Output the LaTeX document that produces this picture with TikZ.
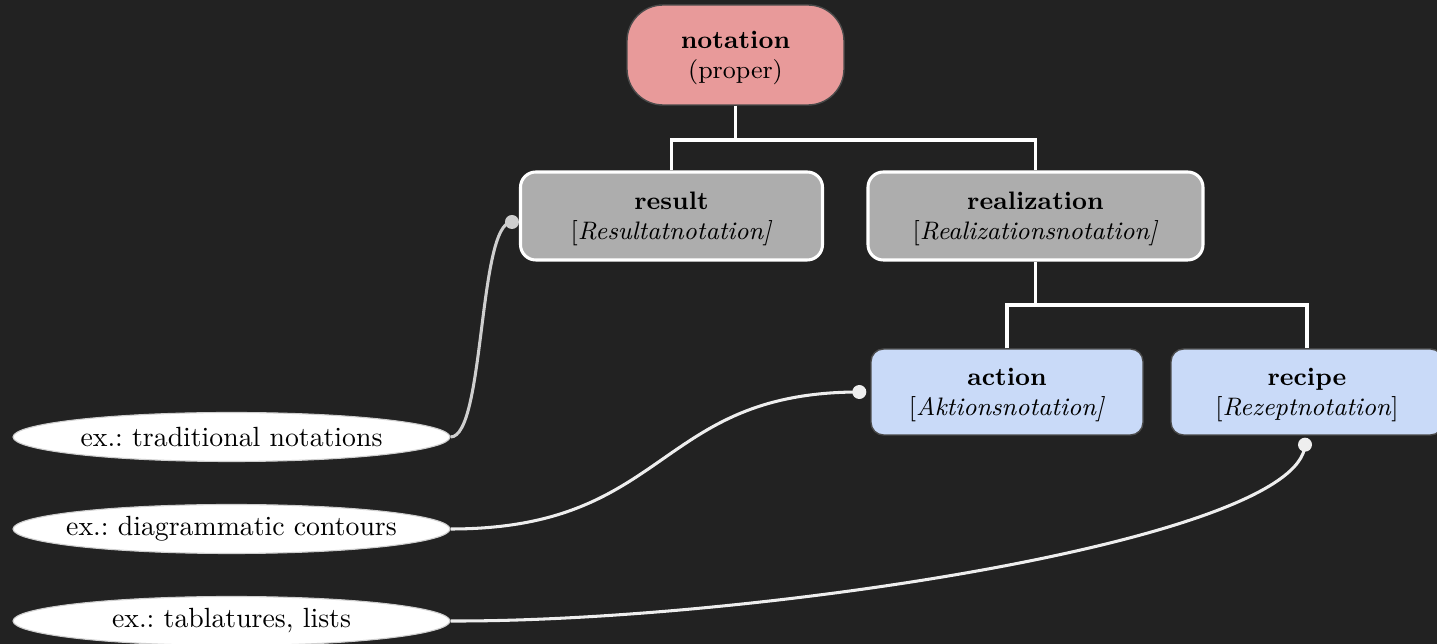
\documentclass[tikz,border=0pt]{standalone}
\usetikzlibrary{shapes.geometric,calc}
\definecolor{bg}{HTML}{222222}
\definecolor{pinkfill}{HTML}{E89A9A}
\definecolor{grayfill}{HTML}{ADADAD}
\definecolor{bluefill}{HTML}{C9DAF8}
\definecolor{edgegray}{HTML}{4A4A4A}
\definecolor{linkgray}{HTML}{CFCFCF}
\definecolor{linkwhite}{HTML}{EEEEEE}
\frenchspacing
\begin{document}
\begin{tikzpicture}[x=0.36pt,y=-0.36pt,
  every node/.style={align=center, inner sep=0pt},
  boxtext/.style={font=\fontsize{9.1}{10.9}\selectfont, text depth=0pt},
  rootbox/.style={boxtext, draw=edgegray, line width=0.5pt, fill=pinkfill, rounded corners=13pt,
    minimum width=217*0.36pt, minimum height=100*0.36pt},
  midbox/.style={boxtext, draw=white, line width=1.1pt, fill=grayfill, rounded corners=5.5pt,
    minimum height=88*0.36pt},
  leafbox/.style={boxtext, draw=edgegray, line width=0.5pt, fill=bluefill, rounded corners=4.5pt,
    minimum width=272*0.36pt, minimum height=86*0.36pt},
  example/.style={ellipse, font=\fontsize{10}{12}\selectfont, draw=linkgray, line width=0.4pt,
    fill=white, inner xsep=-40pt, inner ysep=-6pt,
    minimum width=437*0.36pt, minimum height=49*0.36pt},
  tree/.style={draw=white, line width=1.1pt},
  link/.style={line width=1.1pt},
  dot/.style={circle, fill=#1, minimum size=14*0.36pt, inner sep=0pt}
]
\useasboundingbox (0,0) rectangle (1437,644);
\clip (0,0) rectangle (1437,644);
\fill[bg] (0,0) rectangle (1437,644);

% hierarchy
\node[rootbox] (notation) at (735.5,55) {\textbf{notation}\\(proper)};
\node[midbox, minimum width=302*0.36pt] (result) at (671.5,216) {\textbf{result}\\{[}\textit{Resultatnotation]}};
\node[midbox, minimum width=335*0.36pt] (realization) at (1035.5,216) {\textbf{realization}\\{[}\textit{Realizationsnotation]}};
\node[leafbox] (action) at (1007,392) {\textbf{action}\\{[}\textit{Aktionsnotation]}};
\node[leafbox] (recipe) at (1307,392) {\textbf{recipe}\\{[}\textit{Rezeptnotation}{]}};

\coordinate (j1) at (735.5,140);
\coordinate (j2) at (1035.5,305);
\draw[tree] (notation.south) -- (j1);
\draw[tree] (result.north) |- (j1) -| (realization.north);
\draw[tree] (realization.south) -- (j2);
\draw[tree] (action.north) |- (j2) -| (recipe.north);

% examples
\node[example] (trad) at (231.5,437) {ex.: traditional notations};
\node[example] (diag) at (231.5,529) {ex.: diagrammatic contours};
\node[example] (tabl) at (231.5,621) {ex.: tablatures, lists};

\coordinate (rdot) at ($(result.west)+(-7,6)$);
\coordinate (adot) at ($(action.west)+(-11,0)$);
\coordinate (cdot) at ($(recipe.south)+(-2,9)$);

\draw[link, draw=linkgray] (trad.east) .. controls (485,437) and (478,222) .. (rdot);
\draw[link, draw=linkwhite] (diag.east) .. controls (670,529) and (655,392) .. (adot);
\draw[link, draw=linkwhite] (tabl.east) .. controls (750,622) and (1300,540) .. (cdot);

\node[dot=linkgray] at (rdot) {};
\node[dot=linkwhite] at (adot) {};
\node[dot=linkwhite] at (cdot) {};
\end{tikzpicture}
\end{document}
